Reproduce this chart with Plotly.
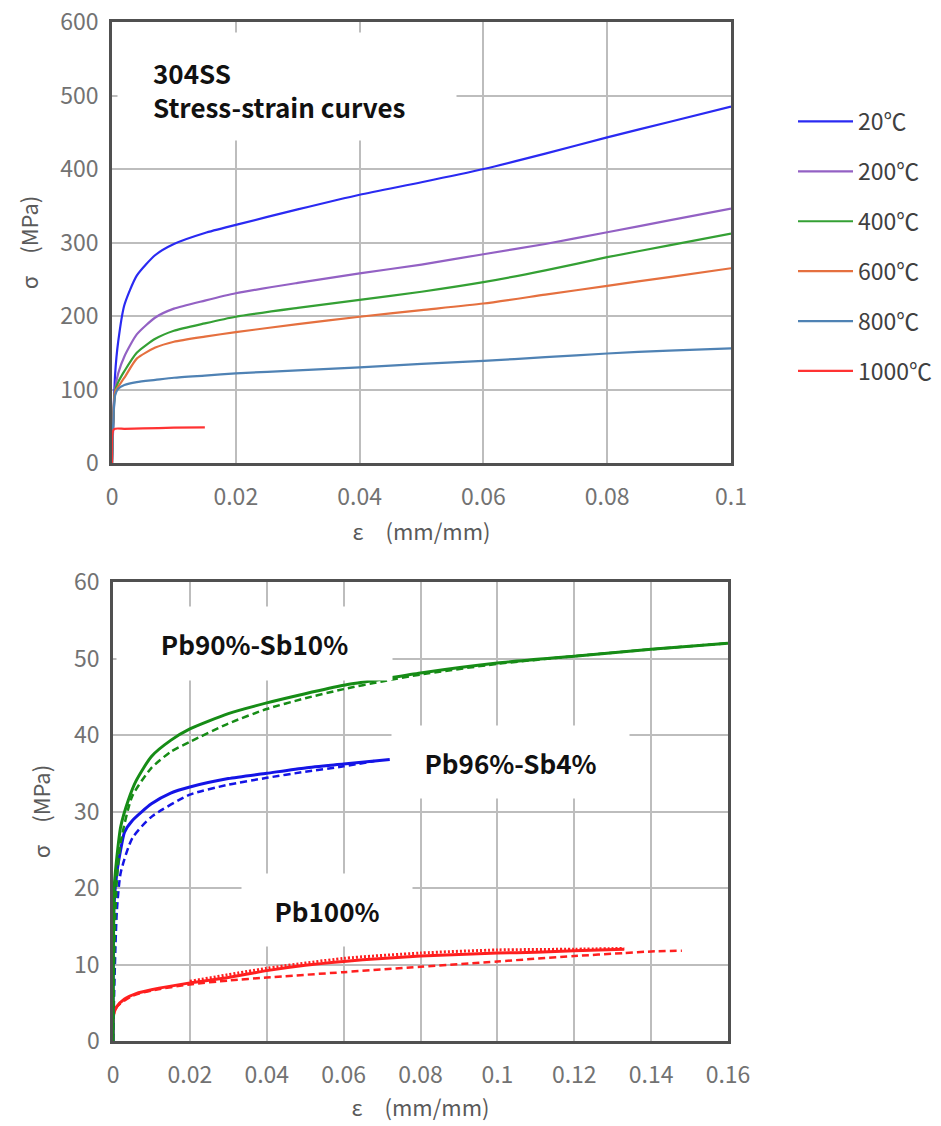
import plotly.graph_objects as go

# ---------------- Top chart: 304SS stress-strain curves ----------------
strain_ss = [0, 0.0005, 0.001, 0.002, 0.004, 0.007, 0.01, 0.015, 0.02, 0.03,
             0.04, 0.05, 0.06, 0.07, 0.08, 0.09, 0.1]
stress_20 = [0, 120, 165, 215, 255, 283, 298, 313, 324, 345,
             365, 382, 400, 421, 443, 464, 485]
stress_200 = [0, 100, 122, 145, 175, 198, 210, 221, 231, 245,
              258, 270, 284, 298, 314, 330, 346]
stress_400 = [0, 98, 110, 125, 150, 169, 180, 190, 199, 211,
              222, 233, 246, 262, 280, 296, 312]
stress_600 = [0, 97, 104, 116, 142, 157, 165, 172, 178, 189,
              199, 208, 217, 229, 241, 253, 265]
stress_800 = [0, 92, 101, 106, 110, 113, 116, 119, 122, 126,
              130, 135, 139, 144, 149, 153, 156]
strain_1000 = [0, 0.0003, 0.002, 0.005, 0.01, 0.015]
stress_1000 = [0, 46, 46.5, 47, 48, 48.5]

temp_labels = ["20℃", "200℃", "400℃", "600℃", "800℃", "1000℃"]
temp_colors = ["#2a2af2", "#9361c4", "#34a034", "#e5703f", "#4f82b4", "#ff3333"]

# ---------------- Bottom chart: Pb-Sb alloys ----------------
strain_sb10 = [0, 0.0003, 0.001, 0.002, 0.004, 0.006, 0.01, 0.015, 0.02, 0.03,
               0.04, 0.05, 0.06, 0.07, 0.08, 0.1, 0.12, 0.14, 0.16]
stress_sb10 = [0, 20, 24, 28, 31.5, 34, 37.2, 39.3, 40.8, 42.8,
               44.2, 45.4, 46.5, 47.3, 48.1, 49.4, 50.3, 51.2, 52.0]
strain_sb10_m = [0, 0.0005, 0.001, 0.002, 0.005, 0.01, 0.015, 0.02, 0.03,
                 0.04, 0.05, 0.06, 0.07, 0.08, 0.1, 0.12, 0.14, 0.16]
stress_sb10_m = [0, 15, 21, 26, 32, 35.7, 37.8, 39.1, 41.5,
                 43.4, 44.8, 46.0, 47.0, 47.9, 49.3, 50.3, 51.2, 52.0]

strain_sb4 = [0, 0.0003, 0.001, 0.002, 0.003, 0.005, 0.01, 0.015, 0.02, 0.03,
              0.04, 0.05, 0.06, 0.072]
stress_sb4 = [0, 18, 22, 25, 27.3, 28.8, 31.0, 32.4, 33.2, 34.3,
              35.0, 35.7, 36.2, 36.8]
strain_sb4_m = [0, 0.0005, 0.001, 0.002, 0.005, 0.01, 0.02, 0.03, 0.04, 0.05,
                0.06, 0.068]
stress_sb4_m = [0, 10, 17, 22, 26.5, 29.3, 32.2, 33.5, 34.4, 35.2,
                35.9, 36.6]

strain_pb = [0, 0.0002, 0.001, 0.003, 0.006, 0.01, 0.02, 0.03, 0.04, 0.05,
             0.06, 0.07, 0.08, 0.09, 0.1, 0.11, 0.12, 0.133]
stress_pb = [0, 3.5, 4.5, 5.5, 6.2, 6.7, 7.6, 8.3, 9.2, 9.9,
             10.4, 10.8, 11.1, 11.3, 11.5, 11.6, 11.8, 12.0]
strain_pb_m = [0, 0.0002, 0.001, 0.005, 0.01, 0.02, 0.03, 0.04, 0.06, 0.08,
               0.1, 0.12, 0.133, 0.14, 0.148]
stress_pb_m = [0, 3.5, 4.5, 5.9, 6.6, 7.4, 7.9, 8.3, 9.0, 9.7,
               10.4, 11.1, 11.5, 11.7, 11.8]
strain_pb_d = [0.02, 0.04, 0.06, 0.08, 0.1, 0.12, 0.133]
stress_pb_d = [7.8, 9.5, 10.8, 11.5, 11.9, 12.0, 12.1]

alloy_colors = {"sb10": "#168c16", "sb4": "#1414e6", "pb": "#ff1f1f"}

x_ticks_top = [0, 0.02, 0.04, 0.06, 0.08, 0.1]
y_ticks_top = [0, 100, 200, 300, 400, 500, 600]
x_ticks_bot = [0, 0.02, 0.04, 0.06, 0.08, 0.1, 0.12, 0.14, 0.16]
y_ticks_bot = [0, 10, 20, 30, 40, 50, 60]

FONT = "Noto Sans CJK JP"
W, H = 941, 1126

fig = go.Figure()

top_x = [strain_ss] * 5 + [strain_1000]
top_y = [stress_20, stress_200, stress_400, stress_600, stress_800, stress_1000]
for i, (xs, ys) in enumerate(zip(top_x, top_y)):
    fig.add_trace(go.Scatter(
        x=xs, y=ys, mode="lines", name=temp_labels[i],
        line=dict(color=temp_colors[i], width=2.2, shape="spline", smoothing=0.6),
        legendgroup=f"g{i}", xaxis="x", yaxis="y"))

bottom_series = [
    (strain_pb_d, stress_pb_d, alloy_colors["pb"], "2px,2px", 3),
    (strain_pb_m, stress_pb_m, alloy_colors["pb"], "7px,4px", 2.5),
    (strain_pb, stress_pb, alloy_colors["pb"], "solid", 3),
    (strain_sb4_m, stress_sb4_m, alloy_colors["sb4"], "7px,4px", 2.5),
    (strain_sb4, stress_sb4, alloy_colors["sb4"], "solid", 3),
    (strain_sb10_m, stress_sb10_m, alloy_colors["sb10"], "7px,4px", 2.5),
    (strain_sb10, stress_sb10, alloy_colors["sb10"], "solid", 3),
]
for xs, ys, c, d, w in bottom_series:
    fig.add_trace(go.Scatter(
        x=xs, y=ys, mode="lines", showlegend=False,
        line=dict(color=c, width=w, dash=d, shape="spline", smoothing=0.6),
        xaxis="x2", yaxis="y2"))

tick_font = dict(family=FONT, size=23, color="#727272")
title_font = dict(family=FONT, size=22, color="#5a5a5a")
axis_common = dict(
    showgrid=True, gridcolor="#bdbdbd", gridwidth=1.5,
    showline=True, mirror=True, linecolor="#505050", linewidth=2.5,
    zeroline=False, ticks="", tickfont=tick_font, automargin=False,
)

fig.update_layout(
    width=W, height=H,
    margin=dict(l=0, r=0, t=0, b=0),
    paper_bgcolor="white", plot_bgcolor="white",
    font=dict(family=FONT),
    xaxis=dict(axis_common, domain=[112 / W, 731 / W], range=[0, 0.1],
               tickvals=x_ticks_top, ticktext=[f"{v:g}" for v in x_ticks_top],
               ticklabelstandoff=12,
               title=dict(text="ε\u3000(mm/mm)", font=title_font, standoff=14),
               anchor="y"),
    yaxis=dict(axis_common, domain=[1 - 463 / H, 1 - 22 / H], range=[0, 600],
               tickvals=y_ticks_top, ticklabelstandoff=6,
               title=dict(text="σ\u3000(MPa)", font=title_font, standoff=16),
               anchor="x"),
    xaxis2=dict(axis_common, domain=[113 / W, 728 / W], range=[0, 0.16],
                tickvals=x_ticks_bot, ticktext=[f"{v:g}" for v in x_ticks_bot],
                ticklabelstandoff=12,
                title=dict(text="ε\u3000(mm/mm)", font=title_font, standoff=12),
                anchor="y2"),
    yaxis2=dict(axis_common, domain=[1 - 1041 / H, 1 - 582 / H], range=[0, 60],
                tickvals=y_ticks_bot, ticklabelstandoff=6,
                title=dict(text="σ\u3000(MPa)", font=title_font, standoff=18),
                anchor="x2"),
    legend=dict(x=793 / W, y=1 - 100 / H, xanchor="left", yanchor="top",
                font=dict(family=FONT, size=23, color="#404040"),
                tracegroupgap=17, itemwidth=55, bgcolor="rgba(0,0,0,0)"),
)

box_font = dict(family=FONT, size=26, color="#111111", weight="bold")
annotations = [
    # white box behind the top title
    dict(xref="x", yref="y", x=0.0283, y=512, text=" ", showarrow=False,
         width=338, height=107, bgcolor="white", borderpad=0),
    dict(xref="x", yref="y", x=0.0063, y=508, xanchor="left", align="left",
         text="304SS<br>Stress-strain curves", showarrow=False,
         font=box_font),
    dict(xref="x2", yref="y2", x=0.0369, y=51.9, text="Pb90%-Sb10%",
         showarrow=False, width=275, height=73, bgcolor="white", borderpad=0,
         font=box_font),
    dict(xref="x2", yref="y2", x=0.1035, y=36.5, text="Pb96%-Sb4%",
         showarrow=False, width=237, height=72, bgcolor="white", borderpad=0,
         font=box_font),
    dict(xref="x2", yref="y2", x=0.0557, y=17.1, text="Pb100%",
         showarrow=False, width=170, height=72, bgcolor="white", borderpad=0,
         font=box_font),
]
fig.update_layout(annotations=annotations)

fig.write_html("out.html")
